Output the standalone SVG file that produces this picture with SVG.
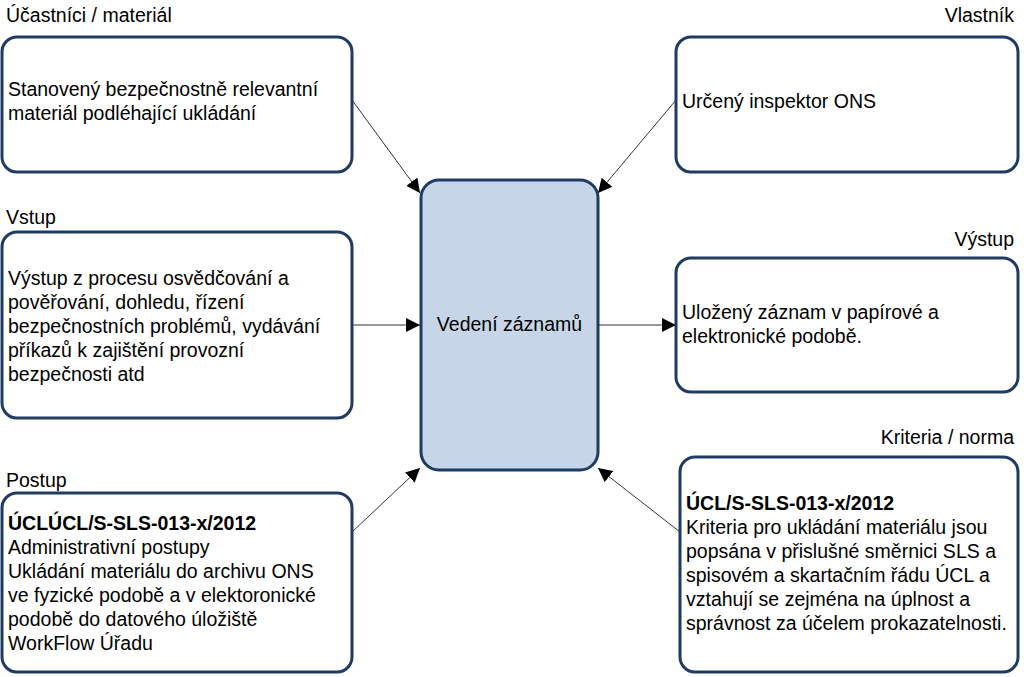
<svg xmlns="http://www.w3.org/2000/svg" width="1024" height="677" viewBox="0 0 1024 677">
<style>
text{font-family:"Liberation Sans",Arial,sans-serif;font-size:19.5px;fill:#000}
.b{fill:#fff;stroke:#1f3b63;stroke-width:3}
.c{fill:#c6d5e7;stroke:#1f3b63;stroke-width:3}
.l{stroke:#333;stroke-width:1;fill:none;marker-end:url(#a)}
.bold{font-weight:bold}
</style>
<defs><marker id="a" viewBox="0 0 10 10" refX="10" refY="5" markerWidth="14" markerHeight="14" markerUnits="userSpaceOnUse" orient="auto"><path d="M0,0L10,5L0,10z" fill="#000"/></marker></defs>
<rect width="1024" height="677" fill="#fff"/>
<g id="connectors">
<line class="l" x1="352" y1="100" x2="420" y2="193"/>
<line class="l" x1="676" y1="100" x2="598" y2="193"/>
<line class="l" x1="352" y1="325" x2="420" y2="325"/>
<line class="l" x1="598" y1="325" x2="676" y2="325"/>
<line class="l" x1="352" y1="532" x2="420" y2="468"/>
<line class="l" x1="680" y1="532" x2="598" y2="468"/>
</g>
<g id="center"><rect class="c" x="421" y="180" width="177" height="290" rx="18"/><text x="509.5" y="331" text-anchor="middle">Vedení záznamů</text></g>
<g id="ucastnici"><text x="6" y="22">Účastníci / materiál</text><rect class="b" x="2" y="37" width="350" height="135" rx="15"/>
<text x="8" y="96">Stanovený bezpečnostně relevantní</text><text x="8" y="120">materiál podléhající ukládání</text></g>
<g id="vlastnik"><text x="1014" y="22" text-anchor="end">Vlastník</text><rect class="b" x="676" y="37" width="342" height="135" rx="15"/>
<text x="682" y="108">Určený inspektor ONS</text></g>
<g id="vstup"><text x="6" y="224">Vstup</text><rect class="b" x="2" y="232" width="350" height="186" rx="15"/>
<text x="8" y="285">Výstup z procesu osvědčování a</text><text x="8" y="309">pověřování, dohledu, řízení</text><text x="8" y="333">bezpečnostních problémů, vydávání</text><text x="8" y="357">příkazů k zajištění provozní</text><text x="8" y="381">bezpečnosti atd</text></g>
<g id="vystup"><text x="1014" y="246" text-anchor="end">Výstup</text><rect class="b" x="676" y="258" width="342" height="134" rx="15"/>
<text x="682" y="319">Uložený záznam v papírové a</text><text x="682" y="343">elektronické podobě.</text></g>
<g id="postup"><text x="6" y="487">Postup</text><rect class="b" x="2" y="493" width="350" height="179" rx="15"/>
<text x="8" y="530" class="bold">ÚCLÚCL/S-SLS-013-x/2012</text><text x="8" y="554">Administrativní postupy</text><text x="8" y="578">Ukládání materiálu do archivu ONS</text><text x="8" y="602">ve fyzické podobě a v elektoronické</text><text x="8" y="626">podobě do datového úložiště</text><text x="8" y="650">WorkFlow Úřadu</text></g>
<g id="kriteria"><text x="1014" y="444" text-anchor="end">Kriteria / norma</text><rect class="b" x="680" y="457" width="338" height="215" rx="15"/>
<text x="686" y="510" class="bold">ÚCL/S-SLS-013-x/2012</text><text x="686" y="534">Kriteria pro ukládání materiálu jsou</text><text x="686" y="558">popsána v přislušné směrnici SLS a</text><text x="686" y="582">spisovém a skartačním řádu ÚCL a</text><text x="686" y="606">vztahují se zejména na úplnost a</text><text x="686" y="630">správnost za účelem prokazatelnosti.</text></g>
</svg>
